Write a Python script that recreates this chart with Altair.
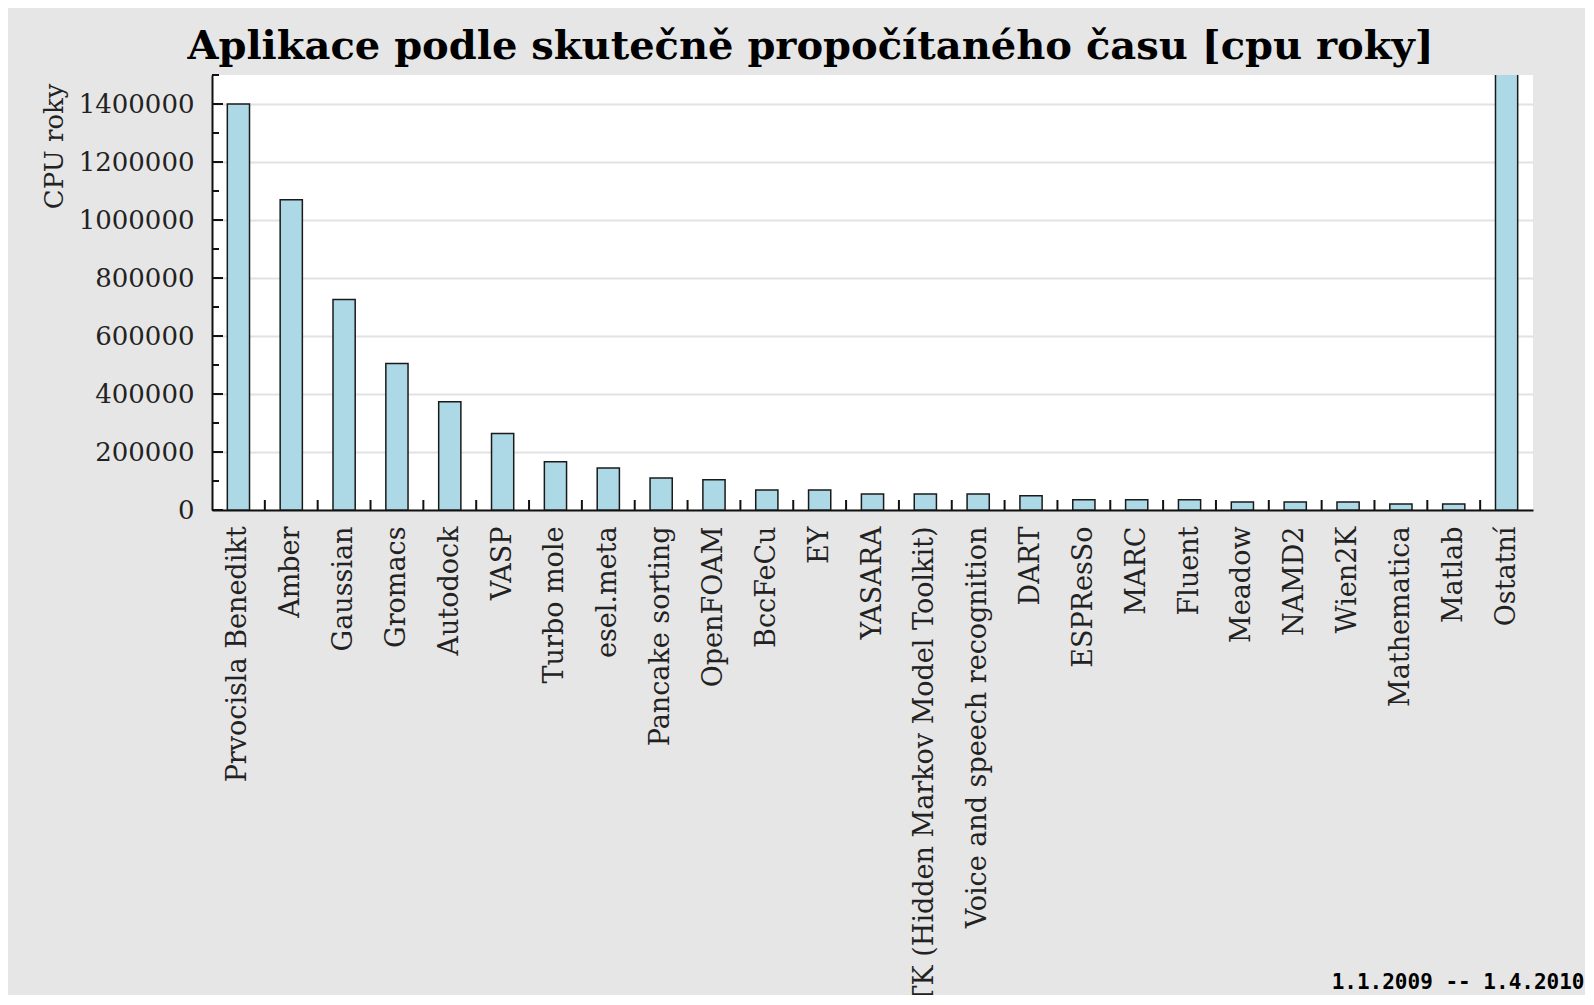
import altair as alt
import pandas as pd

apps = [
    "Prvocisla Benedikt", "Amber", "Gaussian", "Gromacs", "Autodock", "VASP",
    "Turbo mole", "esel.meta", "Pancake sorting", "OpenFOAM", "BccFeCu", "EY",
    "YASARA", "HTK (Hidden Markov Model Toolkit)", "Voice and speech recognition",
    "DART", "ESPResSo", "MARC", "Fluent", "Meadow", "NAMD2", "Wien2K",
    "Mathematica", "Matlab", "Ostatní",
]
cpu_years = [
    1400000, 1070000, 726000, 505000, 373000, 264000,
    166000, 145000, 110000, 104000, 69000, 69000,
    55000, 55000, 55000,
    49000, 35000, 35000, 35000, 28000, 28000, 28000,
    21000, 21000, 1900000,
]
major_ticks = [0, 200000, 400000, 600000, 800000, 1000000, 1200000, 1400000]
minor_ticks = [100000, 300000, 500000, 700000, 900000, 1100000, 1300000, 1500000]
title_text = "Aplikace podle skutečně propočítaného času [cpu roky]"
y_title = "CPU roky"
period = "1.1.2009 -- 1.4.2010"

W, H = 1321, 435

df = pd.DataFrame({"app": apps, "cpu": cpu_years})
ysc = alt.Scale(domain=[0, 1500000], nice=False, zero=True)
xsc = alt.Scale(domain=apps, paddingInner=0, paddingOuter=0)

x_axis = alt.Axis(
    title=period, labelAngle=-90, labelFont="DejaVu Serif", labelFontSize=27,
    labelColor="#222222", labelPadding=16, labelLimit=0, ticks=False, tickSize=0,
    domainColor="#111111", domainWidth=2,
    titleFont="DejaVu Sans Mono", titleFontWeight="bold", titleFontSize=21,
    titleColor="#000000", titleX=1372, titleY=478, titleAlign="right",
    titleBaseline="alphabetic", titleAngle=0,
)
y_axis = alt.Axis(
    title=y_title, values=major_ticks, format="d", labelFont="DejaVu Serif",
    labelFontSize=26, labelColor="#222222", labelPadding=18, ticks=False,
    tickSize=0, grid=True, gridColor="#e2e2e2", gridWidth=2,
    domainColor="#111111", domainWidth=2,
    titleFont="DejaVu Serif", titleFontSize=26, titleFontWeight="normal",
    titleColor="#222222", titleAnchor="end", titleAlign="right", titleAngle=270,
    titleBaseline="alphabetic", titleX=-150, titleY=8,
)

bars = alt.Chart(df).mark_bar(
    fill="#add8e6", stroke="#1a1a1a", strokeWidth=1.5, width={"band": 0.42}, clip=True
).encode(
    x=alt.X("app:N", scale=xsc, axis=x_axis),
    y=alt.Y("cpu:Q", scale=ysc, axis=y_axis),
)

ymaj = alt.Chart(pd.DataFrame({"cpu": major_ticks})).mark_rule(
    color="#111111", strokeWidth=2
).encode(
    y=alt.Y("cpu:Q", scale=ysc, title=y_title),
    x=alt.value(0), x2=alt.value(11),
)
ymin = alt.Chart(pd.DataFrame({"cpu": minor_ticks})).mark_rule(
    color="#111111", strokeWidth=2
).encode(
    y=alt.Y("cpu:Q", scale=ysc, title=y_title),
    x=alt.value(0), x2=alt.value(7),
)
xt = alt.Chart(pd.DataFrame({"app": apps[1:]})).mark_rule(
    color="#111111", strokeWidth=2
).encode(
    x=alt.X("app:N", scale=xsc, bandPosition=0, title=period),
    y=alt.value(H - 10), y2=alt.value(H),
)

chart = alt.layer(bars, ymaj, ymin, xt).properties(
    width=W, height=H,
    title=alt.TitleParams(
        title_text, font="DejaVu Serif", fontSize=40, fontWeight="bold",
        color="#000000", anchor="middle", frame="group", dx=-62, dy=45, offset=20,
        baseline="alphabetic",
    ),
    padding={"left": 204, "top": 67, "right": 52, "bottom": 485},
    autosize=alt.AutoSizeParams(type="none"),
).configure(background="#e6e6e6").configure_view(fill="white", strokeWidth=0)

chart.save("out.html", embed_options={"renderer": "svg", "actions": False})
